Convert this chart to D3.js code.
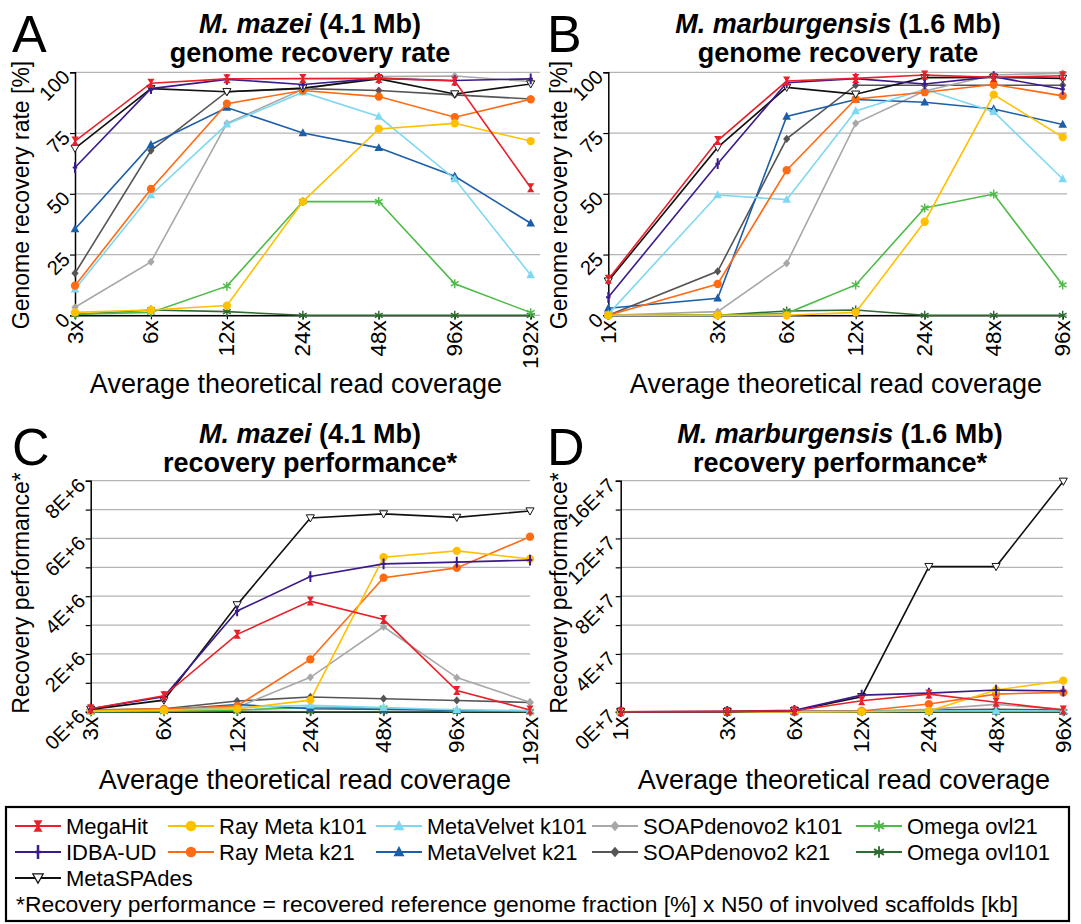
<!DOCTYPE html>
<html><head><meta charset="utf-8">
<script src="https://cdn.jsdelivr.net/npm/d3@7/dist/d3.min.js"></script>
<style>
body{margin:0;background:#fff;}
svg{display:block;font-family:"Liberation Sans",Arial,sans-serif;}
</style></head>
<body><svg id="c" width="1081" height="924"></svg>
<script>
// ---------- DATA ----------
const seriesNames = ["MegaHit","IDBA-UD","MetaSPAdes","Ray Meta k101","Ray Meta k21","MetaVelvet k101","MetaVelvet k21","SOAPdenovo2 k101","SOAPdenovo2 k21","Omega ovl21","Omega ovl101"];
const coverageMazei = [3,6,12,24,48,96,192];
const coverageMarb = [1,3,6,12,24,48,96];
const rateTicks = [0,25,50,75,100];
const perfTicksC = [0,2,4,6,8];        // x 1E+6
const perfTicksD = [0,4,8,12,16];      // x 1E+7

// Panel A: M. mazei genome recovery rate [%]
const rateMazei = [
  [71.7,95.5,97.3,97.4,97.5,96.4,52.5], // MegaHit
  [60.8,93.3,97.1,95.0,97.5,96.6,97.3], // IDBA-UD
  [68.7,93.3,92.0,93.5,97.3,91.1,95.2], // MetaSPAdes
  [1.2,2.2,4.0,46.8,76.7,79.0,71.7],    // Ray Meta k101
  [12.2,52.0,87.1,92.5,90.0,81.5,88.9], // Ray Meta k21
  [10.7,49.5,78.6,91.8,81.8,56.1,16.6], // MetaVelvet k101
  [35.5,70.2,85.5,75.0,68.9,57.2,37.9], // MetaVelvet k21
  [3.3,22.0,79.0,93.0,98.2,98.5,96.2],  // SOAPdenovo2 k101
  [17.3,67.8,92.0,93.3,92.5,90.7,89.0], // SOAPdenovo2 k21
  [0.5,1.2,12.0,46.8,46.8,13.0,1.1],    // Omega ovl21
  [0.3,2.2,1.5,0,0,0,0]                 // Omega ovl101
];
// Panel B: M. marburgensis genome recovery rate [%]
const rateMarb = [
  [14.8,71.9,96.4,97.5,98.9,97.9,98.6],
  [7.4,62.4,95.7,97.4,95.2,98.2,93.0],
  [14.1,69.1,93.8,91.0,97.8,97.9,97.5],
  [0,0,0,1.2,38.5,90.8,73.3],
  [0,12.9,59.7,89.0,91.8,95.0,90.3],
  [0.5,49.5,47.6,84.1,93.0,83.8,56.1],
  [2.9,7.0,81.8,88.8,87.7,84.9,78.5],
  [0,1.5,21.4,79.0,92.3,98.9,99.6],
  [0,18.1,72.6,94.7,94.7,94.7,94.7],
  [0,0,0.8,12.5,44.2,49.9,12.5],
  [0,0,1.8,2.2,0,0,0]
];
// Panel C: M. mazei recovery performance (millions)
const perfMazei = [
  [0.10,0.55,2.68,3.83,3.19,0.73,0.06],
  [0.10,0.52,3.49,4.68,5.12,5.18,5.25],
  [0.08,0.40,3.70,6.71,6.85,6.73,6.95],
  [0.02,0.05,0.10,0.40,5.35,5.57,5.29],
  [0.06,0.10,0.20,1.81,4.64,4.98,6.06],
  [0.01,0.07,0.15,0.22,0.14,0.07,0.03],
  [0.03,0.07,0.25,0.10,0.08,0.05,0.03],
  [0.03,0.08,0.15,1.19,2.94,1.18,0.33],
  [0.06,0.10,0.37,0.51,0.45,0.39,0.32],
  [0,0.01,0.06,0.15,0.13,0.03,0.01],
  [0,0,0.01,0,0,0,0]
];
// Panel D: M. marburgensis recovery performance (x 1E+7)
const perfMarb = [
  [0,0.02,0.07,0.76,1.22,0.65,0.12],
  [0,0.02,0.09,1.15,1.29,1.50,1.43],
  [0,0,0.07,1.04,10.05,10.05,15.96],
  [0,0,0,0,0.05,1.50,2.15],
  [0,0,0,0.05,0.53,1.22,1.34],
  [0,0,0,0.03,0.05,0.06,0.05],
  [0,0,0,0.02,0.03,0.03,0.02],
  [0,0,0,0.03,0.16,0.51,0.16],
  [0,0,0.02,0.05,0.12,0.16,0.12],
  [0,0,0,0.01,0.02,0.02,0.01],
  [0,0,0,0,0,0,0]
];

// ---------- STYLE ----------
const seriesColors = ["#e8202a","#3b1a8c","#111111","#ffc000","#ff6a13","#7fd8f2","#1c5ea8","#a8a8a8","#555555","#4cbb47","#2f6a30"];
const seriesMarkers = ["hourglass","plus","tridown","circle","circle","triangle","triangle","diamond","diamond","asterisk","asterisk"];
const drawOrder = [10,9,8,7,6,5,4,3,2,1,0];

const svg = d3.select("#c");
const FONT = '"Liberation Sans",Arial,sans-serif';

function marker(g, type, color, x, y, s){
  s = s || 1;
  const m = g.append("g").attr("transform",`translate(${x},${y}) scale(${s})`);
  if(type==="circle") m.append("circle").attr("r",4.6).attr("fill",color);
  else if(type==="triangle") m.append("path").attr("d","M0,-5.2L4.8,3.6L-4.8,3.6Z").attr("fill",color);
  else if(type==="diamond") m.append("path").attr("d","M0,-4.6L4,0L0,4.6L-4,0Z").attr("fill",color);
  else if(type==="hourglass") m.append("path").attr("d","M-4,-5L4,-5L0.8,0L4,5L-4,5L-0.8,0Z").attr("fill",color);
  else if(type==="plus"){ m.append("path").attr("d","M0,-6V6M-2.5,0H2.5").attr("stroke",color).attr("stroke-width",2.2).attr("fill","none"); }
  else if(type==="asterisk"){ m.append("path").attr("d","M0,-5V5M-4.3,-2.5L4.3,2.5M-4.3,2.5L4.3,-2.5").attr("stroke",color).attr("stroke-width",1.6).attr("fill","none"); }
  else if(type==="tridown") m.append("path").attr("d","M-4.5,-3.5L4.5,-3.5L0,4.5Z").attr("fill","#fff").attr("stroke",color).attr("stroke-width",1.1);
}

function panel(cfg){
  const g = svg.append("g");
  const x = d3.scaleLog().base(2).domain(cfg.domainX).range([cfg.x0,cfg.x1]);
  const y = d3.scaleLinear().domain([0,cfg.yMax]).range([cfg.yBot,cfg.yTop]);
  // grid
  g.selectAll(".grid").data(cfg.gridVals).enter().append("line")
    .attr("x1",cfg.x0).attr("x2",cfg.gridEnd)
    .attr("y1",d=>y(d)).attr("y2",d=>y(d))
    .attr("stroke","#b4b4b4").attr("stroke-width",1.3);
  // y axis
  const ya = g.append("g").attr("transform",`translate(${cfg.x0},0)`)
    .call(d3.axisLeft(y).tickValues(cfg.gridVals).tickSize(5).tickFormat(""));
  ya.select(".domain").attr("stroke","#000").attr("stroke-width",1.5);
  ya.selectAll(".tick line").attr("stroke","#000").attr("stroke-width",1.2);
  g.selectAll(".ylab").data(cfg.yTicks).enter().append("text")
    .attr("transform",d=>`translate(${cfg.x0-4},${y(d)+6}) rotate(-45)`)
    .attr("text-anchor","end").attr("font-size",20).attr("font-family",FONT)
    .text(cfg.yFmt);
  // x axis
  const xa = g.append("g").attr("transform",`translate(0,${cfg.yBot})`)
    .call(d3.axisBottom(x).tickValues(cfg.xs).tickSize(4).tickFormat(""));
  xa.select(".domain").attr("stroke","#000").attr("stroke-width",1.5);
  xa.selectAll(".tick line").attr("stroke","#000").attr("stroke-width",1.2);
  g.selectAll(".xlab").data(cfg.xs).enter().append("text")
    .attr("transform",d=>`translate(${x(d)+7.5},${cfg.yBot+5}) rotate(-90)`)
    .attr("text-anchor","end").attr("font-size",22.5).attr("font-family",FONT)
    .text(d=>d+"x");
  // lines
  const line = d3.line().x(d=>x(d[0])).y(d=>y(d[1]));
  drawOrder.forEach(i=>{
    const pts = cfg.xs.map((xv,j)=>[xv,cfg.data[i][j]]);
    g.append("path").attr("d",line(pts)).attr("fill","none")
      .attr("stroke",seriesColors[i]).attr("stroke-width",1.6);
    pts.forEach(p=>marker(g,seriesMarkers[i],seriesColors[i],x(p[0]),y(p[1]),0.9));
  });
  // titles
  const t1 = g.append("text").attr("x",cfg.titleX).attr("y",cfg.titleY)
    .attr("text-anchor","middle").attr("font-size",27).attr("font-weight","bold").attr("font-family",FONT);
  t1.append("tspan").attr("font-style","italic").text(cfg.species);
  t1.append("tspan").text(" "+cfg.size);
  g.append("text").attr("x",cfg.titleX).attr("y",cfg.titleY+28.5)
    .attr("text-anchor","middle").attr("font-size",27).attr("font-weight","bold").attr("font-family",FONT)
    .text(cfg.sub);
  g.append("text").attr("x",cfg.letterX).attr("y",cfg.letterY)
    .attr("font-size",52).attr("font-family",FONT).text(cfg.letter);
  g.append("text").attr("transform",`translate(${cfg.yLabX},${cfg.yLabY}) rotate(-90)`)
    .attr("text-anchor","middle").attr("font-size",23).attr("font-family",FONT).text(cfg.yLabel);
  g.append("text").attr("x",cfg.xLabX).attr("y",cfg.xLabY)
    .attr("text-anchor","middle").attr("font-size",27).attr("font-family",FONT).text("Average theoretical read coverage");
}

panel({letter:"A",letterX:12,letterY:52,species:"M. mazei",size:"(4.1 Mb)",sub:"genome recovery rate",titleX:310,titleY:33,
  domainX:[3,192],xs:coverageMazei,x0:75,x1:530.7,yTop:72.3,yBot:315.3,gridEnd:540,yMax:100,gridVals:rateTicks,yTicks:rateTicks,yFmt:d=>d,
  data:rateMazei,yLabel:"Genome recovery rate [%]",yLabX:29,yLabY:195,xLabX:296,xLabY:393});
panel({letter:"B",letterX:547,letterY:52,species:"M. marburgensis",size:"(1.6 Mb)",sub:"genome recovery rate",titleX:838,titleY:33,
  domainX:[1,96],xs:coverageMarb,x0:608.3,x1:1062.7,yTop:72.3,yBot:315.3,gridEnd:1067,yMax:100,gridVals:rateTicks,yTicks:rateTicks,yFmt:d=>d,
  data:rateMarb,yLabel:"Genome recovery rate [%]",yLabX:567,yLabY:195,xLabX:836,xLabY:393});
panel({letter:"C",letterX:12,letterY:465,species:"M. mazei",size:"(4.1 Mb)",sub:"recovery performance*",titleX:310,titleY:443,
  domainX:[3,192],xs:coverageMazei,x0:90.7,x1:530,yTop:480.7,yBot:711.7,gridEnd:530,yMax:8,gridVals:d3.range(0,9,1),yTicks:perfTicksC,yFmt:d=>d+"E+6",
  data:perfMazei,yLabel:"Recovery performance*",yLabX:29,yLabY:593,xLabX:305,xLabY:789});
panel({letter:"D",letterX:547,letterY:465,species:"M. marburgensis",size:"(1.6 Mb)",sub:"recovery performance*",titleX:840,titleY:443,
  domainX:[1,96],xs:coverageMarb,x0:620.7,x1:1063.3,yTop:480.7,yBot:711.7,gridEnd:1063,yMax:16,gridVals:d3.range(0,17,2),yTicks:perfTicksD,yFmt:d=>d+"E+7",
  data:perfMarb,yLabel:"Recovery performance*",yLabX:567,yLabY:593,xLabX:844,xLabY:789});

// ---------- LEGEND ----------
svg.append("rect").attr("x",6).attr("y",807).attr("width",1063).attr("height",114)
  .attr("fill","none").attr("stroke","#000").attr("stroke-width",2.2);
const legendPos = [[15,826],[15,852],[15,878],[168,826],[168,852],[376,826],[376,852],[592,826],[592,852],[856,826],[856,852]];
const legendMaxW = [97,97,200,152,152,160,160,210,210,160,160];
seriesNames.forEach((name,i)=>{
  const [lx,ly] = legendPos[i];
  const lg = svg.append("g");
  lg.append("line").attr("x1",lx).attr("x2",lx+46).attr("y1",ly).attr("y2",ly)
    .attr("stroke",seriesColors[i]).attr("stroke-width",2);
  marker(lg,seriesMarkers[i],seriesColors[i],lx+23,ly,1.15);
  const t = lg.append("text").attr("x",lx+51).attr("y",ly+8).attr("font-size",22).attr("font-family",FONT).text(name);
  const w = t.node().getComputedTextLength();
  if(w > legendMaxW[i]) t.attr("textLength",legendMaxW[i]).attr("lengthAdjust","spacingAndGlyphs");
});
svg.append("text").attr("x",16).attr("y",912).attr("font-size",22.5).attr("font-family",FONT)
  .attr("textLength",1002).attr("lengthAdjust","spacingAndGlyphs")
  .text("*Recovery performance = recovered reference genome fraction [%] x N50 of involved scaffolds [kb]");
</script></body></html>
